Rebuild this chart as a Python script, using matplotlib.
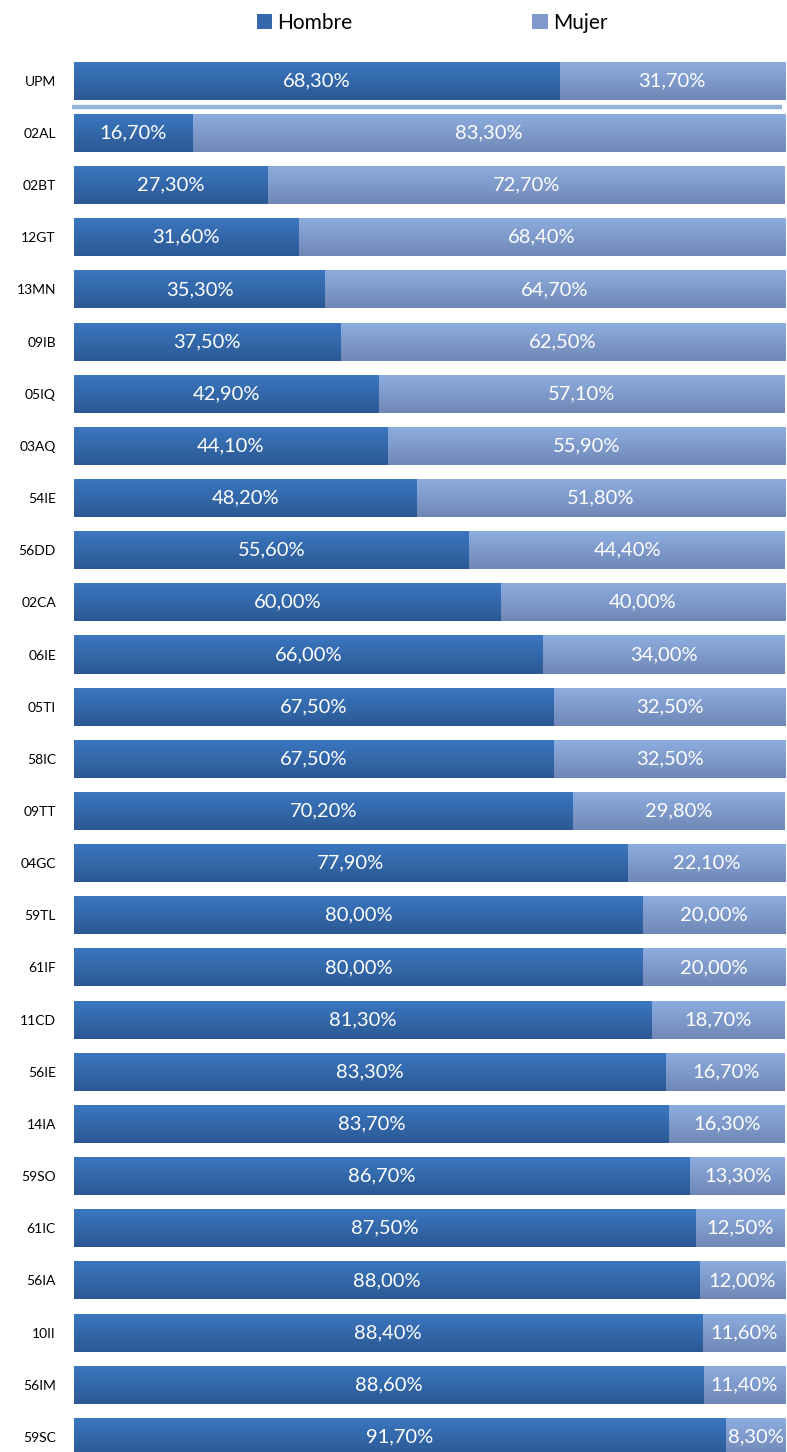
import numpy as np
import matplotlib
matplotlib.use("Agg")
import matplotlib.pyplot as plt
from matplotlib.colors import LinearSegmentedColormap

# data
categories = ["UPM", "02AL", "02BT", "12GT", "13MN", "09IB", "05IQ", "03AQ", "54IE",
              "56DD", "02CA", "06IE", "05TI", "58IC", "09TT", "04GC", "59TL", "61IF",
              "11CD", "56IE", "14IA", "59SO", "61IC", "56IA", "10II", "56IM", "59SC"]
hombre = [68.3, 16.7, 27.3, 31.6, 35.3, 37.5, 42.9, 44.1, 48.2, 55.6, 60.0, 66.0, 67.5,
          67.5, 70.2, 77.9, 80.0, 80.0, 81.3, 83.3, 83.7, 86.7, 87.5, 88.0, 88.4, 88.6, 91.7]
mujer = [31.7, 83.3, 72.7, 68.4, 64.7, 62.5, 57.1, 55.9, 51.8, 44.4, 40.0, 34.0, 32.5,
         32.5, 29.8, 22.1, 20.0, 20.0, 18.7, 16.7, 16.3, 13.3, 12.5, 12.0, 11.6, 11.4, 8.3]

plt.rcParams["font.family"] = ["Lato", "DejaVu Sans"]

fig = plt.figure(figsize=(7.87, 14.52), dpi=100)
ax = fig.add_axes([74 / 787, 0, 711 / 787, 1390 / 1452])

y = np.arange(len(categories))
h_bars = ax.barh(y, hombre, height=0.73, color="#3568AA", label="Hombre")
m_bars = ax.barh(y, mujer, left=hombre, height=0.73, color="#8099CC", label="Mujer")

# vertical gradient on each bar (lighter top, darker bottom)
cm_h = LinearSegmentedColormap.from_list("h", ["#2C5994", "#3B77C1"])
cm_m = LinearSegmentedColormap.from_list("m", ["#6F87B7", "#8EAEE0"])
grad = np.linspace(0, 1, 64).reshape(-1, 1)
for bars, cm in [(h_bars, cm_h), (m_bars, cm_m)]:
    for p in bars:
        x0, y0 = p.get_x(), p.get_y()
        w, hh = p.get_width(), p.get_height()
        im = ax.imshow(grad, cmap=cm, aspect="auto", origin="lower",
                       extent=[x0, x0 + w, y0 + hh, y0], zorder=2)
        im.set_clip_path(p)

# value labels
for i in y:
    ax.text(hombre[i] / 2, i, f"{hombre[i]:.2f}%".replace(".", ","), color="white",
            ha="center", va="center", fontsize=14.5, zorder=3)
    ax.text(hombre[i] + mujer[i] / 2, i, f"{mujer[i]:.2f}%".replace(".", ","), color="white",
            ha="center", va="center", fontsize=14.5, zorder=3)

# separator under UPM
ax.plot([-0.3, 99.6], [0.5, 0.5], color="#95B3D7", lw=3.2, solid_capstyle="butt",
        clip_on=False, zorder=3)

ax.set_xlim(0, 100)
ax.set_ylim(26.29, -0.36)
ax.set_yticks(y)
ax.set_yticklabels(categories, fontsize=10)
ax.tick_params(axis="y", length=0, pad=13)
ax.set_xticks([])
for s in ax.spines.values():
    s.set_visible(False)

fig.legend(handles=[h_bars, m_bars], labels=["Hombre", "Mujer"], loc="center",
           bbox_to_anchor=(432 / 787, 1 - 23 / 1452), ncol=2, frameon=False,
           fontsize=15, handlelength=0.75, handleheight=0.75, handletextpad=0.25,
           columnspacing=8.6)

fig.savefig("out.png", dpi=100)
